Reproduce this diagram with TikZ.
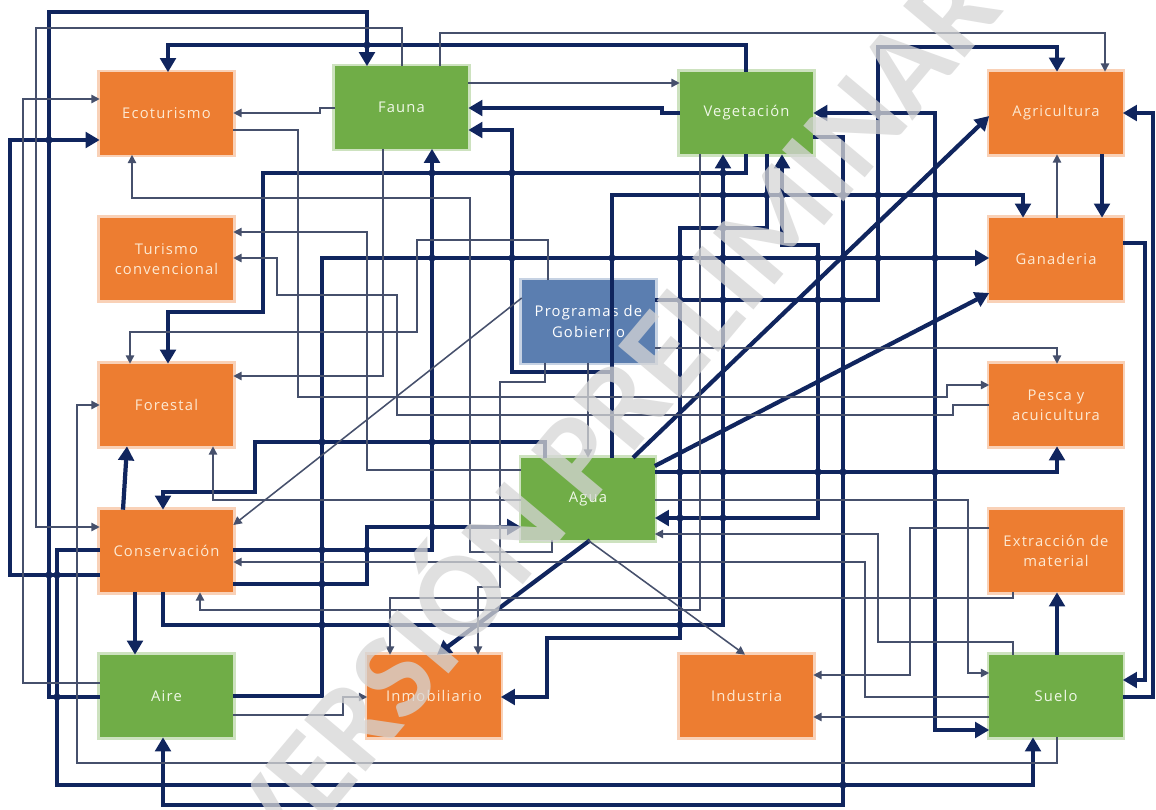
\documentclass[tikz,border=0pt]{standalone}
\usepackage{fontspec}
\setmainfont{Open Sans}[LetterSpace=8]
\newfontfamily\wmfont{Carlito}
\usetikzlibrary{arrows.meta}
\definecolor{orng}{RGB}{237,125,49}
\definecolor{grn}{RGB}{112,173,71}
\definecolor{blu}{RGB}{91,126,176}
\definecolor{navy}{RGB}{16,37,94}
\definecolor{thinc}{RGB}{70,80,108}
\definecolor{txto}{RGB}{253,233,210}
\definecolor{txtg}{RGB}{240,248,232}
\begin{document}
\begin{tikzpicture}[x=0.025cm,y=-0.025cm,
 box/.style={minimum width=3.325cm, minimum height=2.05cm, inner sep=1pt, align=center, font=\fontsize{10.5}{14.5}\selectfont},
 ob/.style={box, fill=orng, text=txto, preaction={draw=orng!35, line width=4pt}},
 gb/.style={box, fill=grn, text=txtg, preaction={draw=grn!35, line width=4pt}},
 bb/.style={box, fill=blu, text=white, preaction={draw=blu!35, line width=4pt}},
 thk/.style={draw=navy, line width=3pt, -{Triangle[length=10pt,width=11pt]}},
 thkboth/.style={draw=navy, line width=3pt, {Triangle[length=10pt,width=11pt]}-{Triangle[length=10pt,width=11pt]}},
 thn/.style={draw=thinc, line width=1.1pt, -{Triangle[length=6pt,width=6pt]}},
 jdot/.style={fill=navy},
]
\fill[white] (0,0) rectangle (1156,809);
\useasboundingbox (0,0) rectangle (1156,809);

\node[ob] (eco) at (166.5,113.5) {Ecoturismo};
\node[gb] (fauna) at (401.5,107.5) {Fauna};
\node[gb] (veg) at (746.5,113) {Vegetación};
\node[ob] (agri) at (1056,113) {Agricultura};
\node[ob] (tur) at (166.5,259) {Turismo\\convencional};
\node[ob] (gan) at (1056,259) {Ganaderia};
\node[bb] (prog) at (588.5,321.5) {Programas de\\Gobierno};
\node[ob] (forest) at (166.5,405) {Forestal};
\node[ob] (pesca) at (1056,405) {Pesca y\\acuicultura};
\node[gb] (agua) at (588,499) {Agua};
\node[ob] (cons) at (166.5,551) {Conservación};
\node[ob] (extr) at (1056,551) {Extracción de\\material};
\node[gb] (aire) at (166.5,696) {Aire};
\node[ob] (inmo) at (434,696) {Inmobiliario};
\node[ob] (indu) at (746.5,696) {Industria};
\node[gb] (suelo) at (1056,696) {Suelo};
\coordinate (j1) at (612,372);

% thick connectors
\draw[thk] (aire.west |- 0,697) -| (49,12) -| (fauna.north -| 367,0);
\draw[thk] (veg.north -| 746,0) |- (168,45) -- (eco.north -| 168,0);
\draw[thk] (prog.east |- 0,300) -| (878,47) -| (agri.north -| 1057,0);
\draw[thk] (cons.west |- 0,575) -| (10,140) -- (eco.west |- 0,140);
\draw[thk] (veg.west |- 0,113) -- (662,113) -- (662,108) -- (fauna.east |- 0,108);
\draw[thk] (agua.north -| 612,0) -- (j1) -| (512,130) -- (fauna.east |- 0,130);
\draw[thk] (j1) |- (1023,195) -- (gan.north -| 1023,0);
\draw[thk] (cons.east |- 0,550) -| (fauna.south -| 432,0);
\draw[thk] (veg.south -| 746,0) |- (263,173) -- (263,312) -| (forest.north -| 168,0);
\draw[thk] (veg.east |- 0,137) -| (843,805) -| (aire.south -| 163,0);
\draw[thk] (aire.east |- 0,696) -| (322,258) -- (gan.west |- 0,258);
\draw[thk] (gan.east |- 0,243) -| (1145,680) -- (suelo.east |- 0,680);
\draw[thk] (suelo.east |- 0,697) -| (1153,113) -- (agri.east |- 0,113);
\draw[thk] (agri.south -| 1102,0) -- (gan.north -| 1102,0);
\draw[thkboth] (veg.east |- 0,113) -| (935,730) -- (suelo.west |- 0,730);
\draw[thk] (agua.east |- 0,472) -| (pesca.south -| 1057,0);
\draw[thk] (cons.east |- 0,584) -| (367,527) -- (agua.west |- 0,527);
\draw[thk] (cons.south -| 163,0) |- (723,625) -- (veg.south -| 723,0);
\draw[thk] (cons.south -| 135,0) -- (aire.north -| 135,0);
\draw[thk] (cons.north -| 123,0) -- (forest.south -| 127,0);
\draw[thk] (agua.north -| 545,0) |- (255,442) |- (163,492) -- (cons.north -| 163,0);
\draw[thk] (agua.north -| 633,0) -- (agri.west |- 0,116);
\draw[thk] (agua.east |- 0,466) -- (gan.west |- 0,293);
\draw[thk] (agua.south -| 590,0) -- (inmo.north -| 437,0);
\draw[thkboth] (veg.south -| 782,0) |- (818,245) |- (agua.east |- 0,518);
\draw[thk] (veg.south -| 767,0) |- (680,228) |- (547,638) |- (inmo.east |- 0,697);
\draw[thk] (suelo.north -| 1057,0) -- (extr.south -| 1057,0);
\draw[thk] (cons.west |- 0,550) -| (57,785) -| (suelo.south -| 1033,0);

% junction dots where thick lines cross
\foreach \p in {(367,45),(49,140),(432,173),(512,173),(723,173),
  (723,195),(767,195),(782,195),(843,195),(878,195),(935,195),
  (432,258),(512,258),(612,258),(680,258),(723,258),(818,258),(843,258),(878,258),(935,258),
  (878,113),(680,300),(723,300),(818,300),(843,300),
  (322,442),(432,442),(680,472),(723,472),(818,472),(843,472),(935,472),
  (680,518),(723,518),(432,527),(322,550),(367,550),(49,575),(57,575),(322,584),
  (322,625),(680,625),(57,697),(843,785),(723,228)}
  \fill[jdot] \p circle[radius=2.6pt];

% thin connectors
\draw[thn] (agua.south -| 588,0) -- (indu.north -| 745,0);
\draw[thn] (prog.west |- 0,298) -- (cons.east |- 0,525);
\draw[thn] (fauna.north -| 402,0) |- (36,28) |- (cons.west |- 0,527);
\draw[thn] (fauna.north -| 440,0) |- (1105,33) -- (agri.north -| 1105,0);
\draw[thn] (fauna.east |- 0,83) -- (veg.west |- 0,83);
\draw[thn] (aire.west |- 0,683) -| (23,99) -- (eco.west |- 0,99);
\draw[thn] (fauna.west |- 0,108) -- (320,108) -- (320,113) -- (eco.east |- 0,113);
\draw[thn] (eco.east |- 0,130) -| (298,397) -| (947,385) -- (pesca.west |- 0,385);
\draw[thn] (pesca.west |- 0,405) -- (953,405) -- (953,415) -| (397,295) -| (277,258) -- (tur.east |- 0,258);
\draw[thn] (agua.west |- 0,470) -| (367,232) -- (tur.east |- 0,232);
\draw[thn] (prog.north -| 548,0) |- (417,240) |- (130,332) -- (forest.north -| 130,0);
\draw[thn] (fauna.south -| 383,0) |- (forest.east |- 0,376);
\draw[thn] (agua.west |- 0,500) -| (forest.south -| 213,0);
\draw[thn] (agua.south -| 552,0) |- (470,552) |- (132,198) -- (eco.south -| 132,0);
\draw[thn] (prog.south -| 545,0) |- (500,382) |- (478,587) -- (inmo.north -| 478,0);
\draw[thn] (prog.south -| 588,0) -- (agua.north -| 588,0);
\draw[thn] (prog.east |- 0,348) -| (pesca.north -| 1057,0);
\draw[thn] (agua.east |- 0,500) -| (968,673) -- (suelo.west |- 0,673);
\draw[thn] (extr.west |- 0,528) -| (910,675) -- (indu.east |- 0,675);
\draw[thn] (suelo.north -| 1013,0) |- (878,642) |- (agua.east |- 0,534);
\draw[thn] (suelo.west |- 0,697) -| (865,562) -- (cons.east |- 0,562);
\draw[thn] (extr.south -| 1013,0) |- (390,598) -- (inmo.north -| 390,0);
\draw[thn] (veg.south -| 700,0) |- (200,610) -- (cons.south -| 200,0);
\draw[thn] (suelo.west |- 0,717) -- (indu.east |- 0,717);
\draw[thn] (suelo.south -| 1057,0) |- (77,763) |- (forest.west |- 0,405);
\draw[thn] (aire.east |- 0,715) -| (343,697) -- (inmo.west |- 0,697);
\draw[thn] (gan.north -| 1057,0) -- (agri.south -| 1057,0);

% watermark
\node[rotate=50, font=\wmfont\bfseries\fontsize{88}{88}\selectfont, text=black!16, opacity=0.75] (wm) at (601,412) {VERSIÓN PRELIMINAR};
\end{tikzpicture}
\end{document}
